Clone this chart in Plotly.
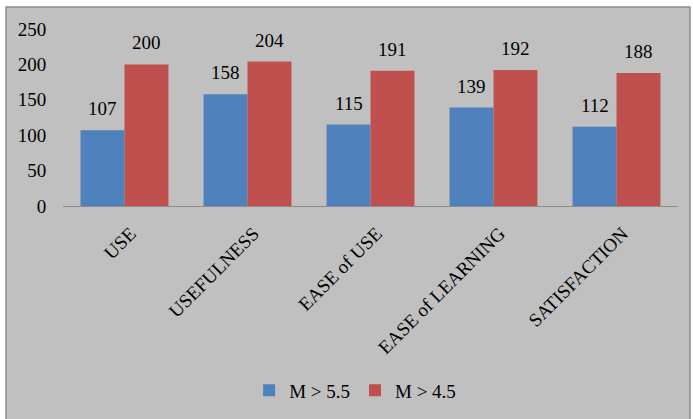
import plotly.graph_objects as go

categories = ["USE", "USEFULNESS", "EASE of USE", "EASE of LEARNING", "SATISFACTION"]
m55 = [107, 158, 115, 139, 112]
m45 = [200, 204, 191, 192, 188]

FONT = "Liberation Serif, Times New Roman, serif"

fig = go.Figure()
fig.add_trace(go.Bar(name="M > 5.5", x=categories, y=m55, marker_color="#4f81bd",
                     marker_line_width=0))
fig.add_trace(go.Bar(name="M > 4.5", x=categories, y=m45, marker_color="#c0504d",
                     marker_line_width=0))

annotations = []
for series, shift in ((m55, -22), (m45, 22)):
    for c, v in zip(categories, series):
        annotations.append(dict(x=c, y=v, xref="x", yref="y", text=str(v), showarrow=False,
                                xshift=shift, yshift=9, yanchor="bottom",
                                font=dict(family=FONT, size=19, color="black")))

# plot area px: x 63..678, y 29..207
fig.update_layout(
    width=693, height=419,
    margin=dict(l=63, r=15, t=29, b=212),
    paper_bgcolor="white",
    plot_bgcolor="white",
    barmode="group",
    bargap=0.285,
    bargroupgap=0,
    font=dict(family=FONT, size=19, color="black"),
    showlegend=True,
    legend=dict(orientation="h", x=0.475, xanchor="center", y=-1.03, yanchor="middle",
                font=dict(family=FONT, size=19, color="black"), bgcolor="rgba(0,0,0,0)",
                itemwidth=30, tracegroupgap=0),
    annotations=annotations,
    shapes=[dict(type="rect", xref="paper", yref="paper", layer="below",
                 x0=(6 - 63) / 615, x1=(690 - 63) / 615,
                 y0=(207 - 430) / 178, y1=(207 - 7) / 178,
                 fillcolor="#c0c0c0", line=dict(color="#8c8c8c", width=1.5))],
)
fig.update_xaxes(tickangle=-45, showline=True, linecolor="#8c8c8c", linewidth=1,
                 ticks="outside", ticklen=8, tickcolor="rgba(0,0,0,0)",
                 ticklabelshift=6,
                 tickfont=dict(family=FONT, size=19, color="black"), showgrid=False)
fig.update_yaxes(range=[0, 250], dtick=50, showgrid=False, zeroline=False,
                 ticks="outside", ticklen=12, tickcolor="rgba(0,0,0,0)",
                 showline=False,
                 tickfont=dict(family=FONT, size=19, color="black"))

fig.write_html("out.html")
